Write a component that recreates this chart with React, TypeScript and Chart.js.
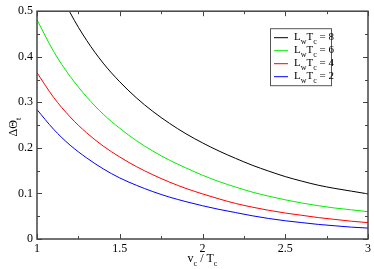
import React, { useEffect, useRef } from 'react';
import { Chart, registerables } from 'chart.js';
Chart.register(...registerables);

const xValues = [1.0, 1.1, 1.2, 1.3, 1.4, 1.5, 1.6, 1.7, 1.8, 1.9, 2.0, 2.1, 2.2, 2.3, 2.4, 2.5, 2.6, 2.7, 2.8, 2.9, 3.0];
const seriesL8 = [0.66, 0.575, 0.497, 0.436, 0.386, 0.345, 0.31, 0.28, 0.254, 0.231, 0.211, 0.193, 0.177, 0.162, 0.149, 0.137, 0.127, 0.118, 0.111, 0.105, 0.099];
const seriesL6 = [0.481, 0.412, 0.357, 0.312, 0.274, 0.243, 0.216, 0.193, 0.173, 0.156, 0.14, 0.126, 0.114, 0.103, 0.094, 0.086, 0.079, 0.073, 0.068, 0.064, 0.06];
const seriesL4 = [0.365, 0.311, 0.268, 0.233, 0.204, 0.18, 0.159, 0.141, 0.125, 0.111, 0.099, 0.088, 0.078, 0.07, 0.063, 0.057, 0.052, 0.047, 0.043, 0.039, 0.036];
const seriesL2 = [0.284, 0.241, 0.206, 0.178, 0.154, 0.134, 0.118, 0.104, 0.092, 0.082, 0.073, 0.065, 0.058, 0.051, 0.045, 0.04, 0.036, 0.032, 0.029, 0.026, 0.024];
const seriesValues = ['8', '6', '4', '2'];
const seriesColors = ['#000000', '#00ee00', '#ff0000', '#0000ff'];
const xTicks = [1, 1.5, 2, 2.5, 3];
const xMinorTicks = [1.25, 1.75, 2.25, 2.75];
const yTicks = [0, 0.1, 0.2, 0.3, 0.4, 0.5];
const yMinorTicks = [0.05, 0.15, 0.25, 0.35, 0.45];

const FONT = '"Liberation Serif", "DejaVu Serif", serif';

type Part = { t: string; sub?: boolean };

function drawParts(ctx: CanvasRenderingContext2D, parts: Part[], x: number, y: number, size: number, align: 'left' | 'center') {
  const subSize = Math.round(size * 0.7);
  let total = 0;
  const widths = parts.map(p => {
    ctx.font = `${p.sub ? subSize : size}px ${FONT}`;
    const w = ctx.measureText(p.t).width;
    total += w;
    return w;
  });
  let cx = align === 'center' ? x - total / 2 : x;
  ctx.textBaseline = 'alphabetic';
  ctx.textAlign = 'left';
  parts.forEach((p, i) => {
    ctx.font = `${p.sub ? subSize : size}px ${FONT}`;
    ctx.fillText(p.t, cx, p.sub ? y + size * 0.3 : y);
    cx += widths[i];
  });
}

const fmt = (v: number) => String(Number(v.toFixed(2)));

export default function App() {
  const ref = useRef<HTMLCanvasElement | null>(null);
  useEffect(() => {
    if (!ref.current) return;
    const datas = [seriesL8, seriesL6, seriesL4, seriesL2];
    const framePlugin = {
      id: 'frame',
      afterDatasetsDraw(chart: any) {
        const ctx: CanvasRenderingContext2D = chart.ctx;
        const { left, right, top, bottom } = chart.chartArea;
        const xs = chart.scales.x;
        const ys = chart.scales.y;
        ctx.save();
        ctx.strokeStyle = '#444444';
        ctx.lineWidth = 1.5;
        ctx.strokeRect(left, top, right - left, bottom - top);
        ctx.lineWidth = 1;
        ctx.beginPath();
        const tickX = (v: number, len: number) => {
          const px = Math.round(xs.getPixelForValue(v)) + 0.5;
          ctx.moveTo(px, bottom); ctx.lineTo(px, bottom - len);
          ctx.moveTo(px, top); ctx.lineTo(px, top + len);
        };
        const tickY = (v: number, len: number) => {
          const py = Math.round(ys.getPixelForValue(v)) + 0.5;
          ctx.moveTo(left, py); ctx.lineTo(left + len, py);
          ctx.moveTo(right, py); ctx.lineTo(right - len, py);
        };
        xTicks.forEach(v => tickX(v, 5));
        xMinorTicks.forEach(v => tickX(v, 3));
        yTicks.forEach(v => tickY(v, 5));
        yMinorTicks.forEach(v => tickY(v, 3));
        ctx.stroke();

        // axis titles
        ctx.fillStyle = '#000';
        drawParts(ctx, [{ t: 'v' }, { t: 'c', sub: true }, { t: ' / T' }, { t: 'c', sub: true }], (left + right) / 2, 262, 12, 'center');
        ctx.save();
        ctx.translate(17, (top + bottom) / 2 + 2);
        ctx.rotate(-Math.PI / 2);
        drawParts(ctx, [{ t: 'ΔΘ' }, { t: 't', sub: true }], 0, 0, 12, 'center');
        ctx.restore();

        // legend
        const lx = left + 233;
        const ly = top + 17;
        const lw = 61;
        const lh = 57;
        ctx.fillStyle = '#fff';
        ctx.fillRect(lx, ly, lw, lh);
        ctx.strokeStyle = '#555555';
        ctx.lineWidth = 1;
        ctx.strokeRect(lx + 0.5, ly + 0.5, lw, lh);
        chart.data.datasets.forEach((ds: any, i: number) => {
          const ry = ly + 9 + i * 13;
          ctx.strokeStyle = ds.borderColor;
          ctx.lineWidth = 1;
          ctx.beginPath();
          ctx.moveTo(lx + 4, ry + 0.5);
          ctx.lineTo(lx + 18, ry + 0.5);
          ctx.stroke();
          ctx.fillStyle = '#000';
          drawParts(ctx, [{ t: 'L' }, { t: 'w', sub: true }, { t: 'T' }, { t: 'c', sub: true }, { t: ' = ' + seriesValues[i] }], lx + 24, ry + 3, 11, 'left');
        });
        ctx.restore();
      },
    };
    const chart = new Chart(ref.current, {
      type: 'line',
      data: {
        datasets: datas.map((d, i) => ({
          label: 'LwTc = ' + seriesValues[i],
          data: xValues.map((x, j) => ({ x, y: d[j] })),
          borderColor: seriesColors[i],
          backgroundColor: seriesColors[i],
          borderWidth: 1,
          pointRadius: 0,
          cubicInterpolationMode: 'monotone' as const,
          fill: false,
        })),
      },
      options: {
        animation: false,
        responsive: false,
        maintainAspectRatio: false,
        layout: { padding: { top: 5, right: 3, left: 0, bottom: 0 } },
        plugins: { legend: { display: false }, tooltip: { enabled: false } },
        scales: {
          x: {
            type: 'linear',
            min: 1,
            max: 3,
            afterBuildTicks: (s: any) => { s.ticks = xTicks.map(v => ({ value: v })); },
            afterFit: (s: any) => { s.height = 30; },
            grid: { display: false, drawTicks: false },
            border: { display: false },
            ticks: { callback: (v: any) => fmt(Number(v)), font: { family: FONT, size: 12 }, color: '#000', padding: 3, maxRotation: 0, autoSkip: false },
          },
          y: {
            type: 'linear',
            min: 0,
            max: 0.5,
            afterBuildTicks: (s: any) => { s.ticks = yTicks.map(v => ({ value: v })); },
            afterFit: (s: any) => { s.width = 37; },
            grid: { display: false, drawTicks: false },
            border: { display: false },
            ticks: { callback: (v: any) => fmt(Number(v)), font: { family: FONT, size: 12 }, color: '#000', padding: 4, autoSkip: false },
          },
        },
      },
      plugins: [framePlugin],
    });
    return () => chart.destroy();
  }, []);
  return (
    <div style={{ position: 'absolute', left: 0, top: 0, width: 374, height: 269, background: '#fff' }}>
      <canvas ref={ref} width={374} height={269} style={{ display: 'block' }} />
    </div>
  );
}
